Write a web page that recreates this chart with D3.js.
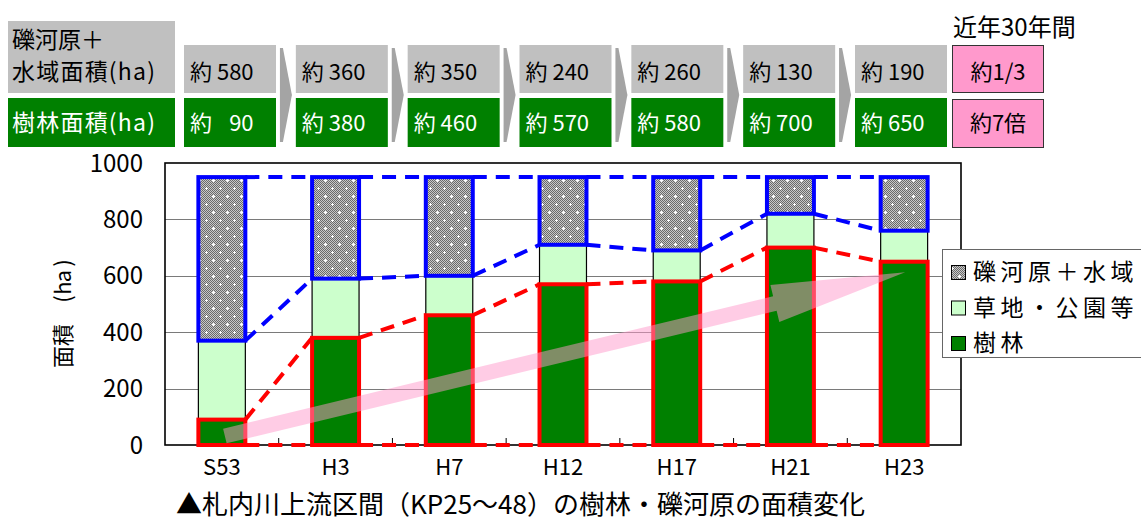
<!DOCTYPE html>
<html lang="ja">
<head>
<meta charset="utf-8">
<script src="https://cdn.jsdelivr.net/npm/d3@7/dist/d3.min.js"></script>
<style>
  html, body { margin: 0; padding: 0; background: #fff; }
  svg { display: block; }
  text { font-family: "Noto Sans CJK JP", "Noto Sans", sans-serif; }
</style>
</head>
<body>
<svg id="chart" width="1141" height="522"></svg>
<script>
// Survey years and areas (ha) per land-cover class
const categories = ["S53", "H3", "H7", "H12", "H17", "H21", "H23"];
const forest = [90, 380, 460, 570, 580, 700, 650];   // 樹林
const grass  = [280, 210, 140, 140, 110, 120, 110];  // 草地・公園等
const gravel = [580, 360, 350, 240, 260, 130, 190];  // 礫河原＋水域
const yTicks = [0, 200, 400, 600, 800, 1000];

// Summary column
const summaryHead = "近年30年間";
const summary = ["約1/3", "約7倍"];

// Trend arrow endpoints (category, value)
const trendFrom = ["S53", 32];
const trendTo = ["H23", 613];

const legendItems = [
  { label: "礫河原＋水域", fill: "url(#gravelPat)" },
  { label: "草地・公園等", fill: "#ccffcc" },
  { label: "樹林", fill: "#008000" }
];

// vertical axis title, glyph by glyph (offset along the rotated baseline)
const yTitleGlyphs = [
  { ch: "面", at: -43 }, { ch: "積", at: -21 },
  { ch: "(", at: 15 }, { ch: "h", at: 26 }, { ch: "a", at: 38 }, { ch: ")", at: 51 }
];

const svg = d3.select("#chart");

// ---------- patterns ----------
const defs = svg.append("defs");
const chk = defs.append("pattern").attr("id", "chk")
  .attr("width", 2).attr("height", 2).attr("patternUnits", "userSpaceOnUse");
chk.append("rect").attr("width", 2).attr("height", 2).attr("fill", "#c8c8c8");
chk.append("rect").attr("width", 1).attr("height", 1).attr("fill", "#6a6a6a");
chk.append("rect").attr("x", 1).attr("y", 1).attr("width", 1).attr("height", 1).attr("fill", "#6a6a6a");

const gp = defs.append("pattern").attr("id", "gravelPat")
  .attr("width", 14).attr("height", 16).attr("patternUnits", "userSpaceOnUse");
gp.append("rect").attr("width", 14).attr("height", 16).attr("fill", "url(#chk)");
[[3, 4], [10, 12]].forEach(([cx, cy]) => {
  gp.append("rect").attr("x", cx - 1).attr("y", cy).attr("width", 3).attr("height", 1).attr("fill", "#fff");
  gp.append("rect").attr("x", cx).attr("y", cy - 1).attr("width", 1).attr("height", 3).attr("fill", "#fff");
});

// ---------- scales ----------
const plot = { left: 165, right: 961, top: 163, bottom: 445 };
const x = d3.scaleBand().domain(categories)
  .range([plot.left, plot.right]).paddingInner(0.587).paddingOuter(0.2935);
const y = d3.scaleLinear().domain([0, 1000]).range([plot.bottom, plot.top]);
const bw = x.bandwidth();
const step = x.step();

const rows = categories.map((c, i) => ({
  cat: c, f: forest[i], g: grass[i], r: gravel[i],
  fTop: forest[i], gTop: forest[i] + grass[i], rTop: forest[i] + grass[i] + gravel[i]
}));

// ---------- top table ----------
const tx = d3.scalePoint().domain(categories).range([230, 901]);
const cellW = 92;
const table = svg.append("g");

// row headers
table.append("rect").attr("x", 8).attr("y", 21).attr("width", 167).attr("height", 72).attr("fill", "#c0c0c0");
table.append("rect").attr("x", 8).attr("y", 98).attr("width", 167).attr("height", 49).attr("fill", "#008000");
table.append("text").attr("x", 12).attr("y", 48).attr("font-size", 23).attr("fill", "#000").text("礫河原＋");
table.append("text").attr("x", 12).attr("y", 80).attr("font-size", 23).attr("fill", "#000")
  .attr("textLength", 143).attr("lengthAdjust", "spacing").text("水域面積(ha)");
table.append("text").attr("x", 12).attr("y", 131).attr("font-size", 23).attr("fill", "#fff")
  .attr("textLength", 143).attr("lengthAdjust", "spacing").text("樹林面積(ha)");

// chevrons between columns
categories.slice(0, -1).forEach((c, i) => {
  const mx = (tx(c) + tx(categories[i + 1])) / 2;
  table.append("path")
    .attr("d", `M${mx - 6},48 L${mx - 3},48 L${mx + 6},95 L${mx - 3},142 L${mx - 6},142 Z`)
    .attr("fill", "#a4a4a4");
});

const cells = table.selectAll("g.cell").data(rows).join("g").attr("class", "cell");
cells.append("rect").attr("x", d => tx(d.cat) - cellW / 2).attr("y", 45)
  .attr("width", cellW).attr("height", 48).attr("fill", "#c0c0c0");
cells.append("rect").attr("x", d => tx(d.cat) - cellW / 2).attr("y", 98)
  .attr("width", cellW).attr("height", 49).attr("fill", "#008000");
const fmt = v => "約 " + (v < 100 ? "\u2007" : "") + v;
cells.append("text").attr("x", d => tx(d.cat) - cellW / 2 + 6).attr("y", 80)
  .attr("font-size", 22).attr("fill", "#000").text(d => fmt(d.r));
cells.append("text").attr("x", d => tx(d.cat) - cellW / 2 + 6).attr("y", 131)
  .attr("font-size", 22).attr("fill", "#fff").text(d => fmt(d.f));

// summary column
const sx = tx(categories[categories.length - 1]) + 97;
table.append("text").attr("x", sx - 45).attr("y", 36).attr("font-size", 24).attr("fill", "#000").text(summaryHead);
[[45, 47, 80], [99, 48, 131]].forEach(([yy, hh, base], i) => {
  table.append("rect").attr("x", sx - 45.5).attr("y", yy + 0.5).attr("width", 91).attr("height", hh)
    .attr("fill", "#ff99cc").attr("stroke", "#333").attr("stroke-width", 1);
  table.append("text").attr("x", sx).attr("y", base).attr("text-anchor", "middle")
    .attr("font-size", 22).attr("fill", "#000").text(summary[i]);
});

// ---------- chart ----------
const g = svg.append("g");

// gridlines
g.selectAll("line.grid").data(yTicks.filter(t => t > 0 && t < 1000)).join("line")
  .attr("x1", plot.left).attr("x2", plot.right)
  .attr("y1", d => Math.round(y(d)) + 0.5).attr("y2", d => Math.round(y(d)) + 0.5)
  .attr("stroke", "#7a7a7a").attr("stroke-width", 1);

// category boundary ticks (inside)
g.selectAll("line.tick").data(categories.slice(1)).join("line")
  .attr("x1", d => x(d) - (step - bw) / 2).attr("x2", d => x(d) - (step - bw) / 2)
  .attr("y1", plot.bottom).attr("y2", plot.bottom - 7)
  .attr("stroke", "#000").attr("stroke-width", 1);

// plot frame
g.append("rect").attr("x", plot.left).attr("y", plot.top)
  .attr("width", plot.right - plot.left).attr("height", plot.bottom - plot.top)
  .attr("fill", "none").attr("stroke", "#000").attr("stroke-width", 1.6);

// y tick labels
g.selectAll("text.ytick").data(yTicks).join("text")
  .attr("x", 143).attr("y", d => y(d)).attr("dy", "0.36em")
  .attr("text-anchor", "end").attr("font-size", 24).attr("fill", "#000")
  .text(d => d);

// y axis title: 面積（ha）
const yt = g.append("text").attr("transform", "translate(63,314) rotate(-90)")
  .attr("font-size", 22).attr("fill", "#000");
yTitleGlyphs.forEach(d => {
  yt.append("tspan").attr("x", d.at).attr("y", 0).attr("dy", "0.36em")
    .attr("text-anchor", "middle").text(d.ch);
});

// x labels
g.selectAll("text.xlab").data(categories).join("text")
  .attr("x", d => x(d) + bw / 2).attr("y", 475)
  .attr("text-anchor", "middle").attr("font-size", 22).attr("fill", "#000")
  .text(d => d);

// stacked segments
g.selectAll("rect.grass").data(rows).join("rect")
  .attr("x", d => x(d.cat)).attr("width", bw)
  .attr("y", d => y(d.gTop)).attr("height", d => y(d.fTop) - y(d.gTop))
  .attr("fill", "#ccffcc").attr("stroke", "#000").attr("stroke-width", 1.2);
g.selectAll("rect.forest").data(rows).join("rect")
  .attr("x", d => x(d.cat)).attr("width", bw)
  .attr("y", d => y(d.fTop)).attr("height", d => y(0) - y(d.fTop))
  .attr("fill", "#008000").attr("stroke", "#ff0000").attr("stroke-width", 4);
g.selectAll("rect.gravel").data(rows).join("rect")
  .attr("x", d => x(d.cat)).attr("width", bw)
  .attr("y", d => y(d.rTop)).attr("height", d => y(d.gTop) - y(d.rTop))
  .attr("fill", "url(#gravelPat)").attr("stroke", "#0000ff").attr("stroke-width", 4);

// series lines joining segment edges of neighbouring bars
const links = [
  { key: "rTop", color: "#0000ff" },
  { key: "gTop", color: "#0000ff" },
  { key: "fTop", color: "#ff0000" },
  { key: null, color: "#ff0000" }
];
links.forEach(l => {
  const val = d => (l.key ? d[l.key] : 0);
  g.selectAll(null).data(rows.slice(0, -1)).join("line")
    .attr("x1", d => x(d.cat) + bw).attr("y1", d => y(val(d)))
    .attr("x2", (d, i) => x(rows[i + 1].cat)).attr("y2", (d, i) => y(val(rows[i + 1])))
    .attr("stroke", l.color).attr("stroke-width", 4)
    .attr("stroke-dasharray", "14,9");
});

// trend arrow
(function () {
  const T = [x(trendFrom[0]) + bw / 2 + 3, y(trendFrom[1])];
  const P = [x(trendTo[0]) + bw / 2 + 1, y(trendTo[1])];
  const dx = P[0] - T[0], dy = P[1] - T[1];
  const L = Math.hypot(dx, dy);
  const u = [dx / L, dy / L], n = [-u[1], u[0]];
  const hw = 7.5, hh = 19, hl = 134;
  const H = [P[0] - u[0] * hl, P[1] - u[1] * hl];
  const pt = (b, s) => [b[0] + n[0] * s, b[1] + n[1] * s];
  const pts = [pt(T, hw), pt(H, hw), pt(H, hh), P, pt(H, -hh), pt(H, -hw), pt(T, -hw)];
  g.append("polygon").attr("points", pts.map(p => p.join(",")).join(" "))
    .attr("fill", "#ff99cc").attr("fill-opacity", 0.5);
})();

// legend
const lg = g.append("g").attr("transform", "translate(942,249)");
lg.append("rect").attr("x", 0.5).attr("y", 0.5).attr("width", 220).attr("height", 108)
  .attr("fill", "#fff").attr("stroke", "#666").attr("stroke-width", 1);
const li = lg.selectAll("g.item").data(legendItems).join("g")
  .attr("transform", (d, i) => `translate(0,${23 + i * 35.5})`);
li.append("rect").attr("x", 9.5).attr("y", -6.5).attr("width", 14).attr("height", 14)
  .attr("fill", d => d.fill).attr("stroke", "#000").attr("stroke-width", 1);
li.append("text").attr("x", 31).attr("y", 0).attr("dy", "0.36em")
  .attr("font-size", 23).attr("letter-spacing", "4.5px").attr("fill", "#000")
  .text(d => d.label);

// caption
svg.append("text").attr("x", 176).attr("y", 514).attr("font-size", 26).attr("fill", "#000")
  .text("▲札内川上流区間（KP25～48）の樹林・礫河原の面積変化");
</script>
</body>
</html>
